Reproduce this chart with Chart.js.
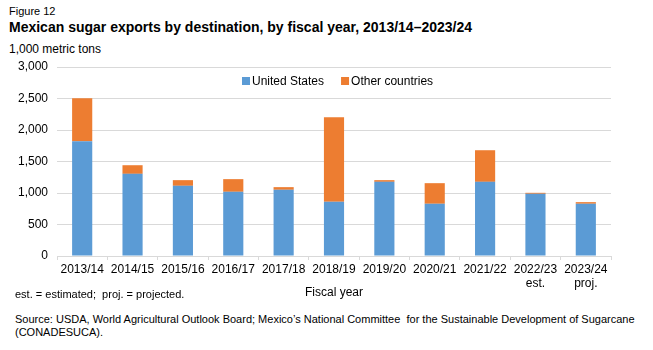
<!DOCTYPE html>
<html>
<head>
<meta charset="utf-8">
<script src="https://cdn.jsdelivr.net/npm/chart.js@4.4.1/dist/chart.umd.min.js"></script>
<style>
  body { margin: 0; background: #fff; font-family: "Liberation Sans Narrow", "Liberation Sans", Arial, sans-serif; }
  #wrap { position: relative; width: 653px; height: 350px; overflow: hidden; }
  .txt { position: absolute; left: 9px; color: #000; white-space: nowrap; }
  #fig { top: 5px; font-size: 11px; }
  #title { top: 19px; font-size: 14px; font-weight: bold; }
  #unit { top: 42px; font-size: 12px; }
  #note { top: 288px; font-size: 11px; left: 15px; }
  #src { top: 313px; font-size: 11px; left: 15px; line-height: 13px; }
  #box { position: absolute; left: 0; top: 50px; width: 653px; height: 250px; }
</style>
</head>
<body>
<div id="wrap">
  <div class="txt" id="fig">Figure 12</div>
  <div class="txt" id="title">Mexican sugar exports by destination, by fiscal year, 2013/14–2023/24</div>
  <div class="txt" id="unit">1,000 metric tons</div>
  <div id="box"><canvas id="myChart"></canvas></div>
  <div class="txt" id="note">est. = estimated;&nbsp; proj. = projected.</div>
  <div class="txt" id="src">Source: USDA, World Agricultural Outlook Board; Mexico’s National Committee&nbsp; for the Sustainable Development of Sugarcane<br>(CONADESUCA).</div>
</div>
<script>
// Fiscal years (second line = est./proj. marker)
const years = [
    '2013/14', '2014/15', '2015/16', '2016/17', '2017/18', '2018/19',
    '2019/20', '2020/21', '2021/22', ['2022/23', 'est.'], ['2023/24', 'proj.']
];

// Exports, 1,000 metric tons
const unitedStates = [1822, 1304, 1114, 1019, 1051, 861, 1177, 829, 1177, 987, 829];
const otherCountries = [680, 137, 90, 201, 42, 1341, 27, 327, 502, 16, 26];

const yTicks = [0, 500, 1000, 1500, 2000, 2500, 3000];

const seriesNames = ['United States', 'Other countries'];
const seriesColors = ['#5b9bd5', '#ed7d31'];

const fontName = '"Liberation Sans Narrow", "Liberation Sans", Arial, sans-serif';

// legend drawn inside the plot area, like the original
const insideLegend = {
    id: 'insideLegend',
    afterDraw(chart) {
        const ctx = chart.ctx;
        const y = 81 - 50;
        let x = 242;
        ctx.save();
        ctx.font = '12px ' + fontName;
        ctx.textBaseline = 'middle';
        seriesNames.forEach(function(name, i) {
            ctx.fillStyle = seriesColors[i];
            ctx.fillRect(x, y - 4, 8, 8);
            ctx.fillStyle = '#000';
            ctx.fillText(name, x + 10, y + 1);
            x += 10 + ctx.measureText(name).width + 17;
        });
        ctx.restore();
    }
};

const ctx = document.getElementById('myChart').getContext('2d');
const myChart = new Chart(ctx, {
    type: 'bar',
    data: {
        labels: years,
        datasets: [{
            label: seriesNames[0],
            data: unitedStates,
            backgroundColor: seriesColors[0],
            barPercentage: 0.4,
            categoryPercentage: 1
        }, {
            label: seriesNames[1],
            data: otherCountries,
            backgroundColor: seriesColors[1],
            barPercentage: 0.4,
            categoryPercentage: 1
        }]
    },
    options: {
        responsive: true,
        maintainAspectRatio: false,
        animation: false,
        layout: { padding: { top: 17, right: 42, bottom: 0, left: 0 } },
        plugins: {
            legend: { display: false },
            tooltip: { enabled: false }
        },
        scales: {
            x: {
                stacked: true,
                grid: { drawOnChartArea: false, color: '#d9d9d9', tickLength: 4, offset: true },
                border: { color: '#d9d9d9' },
                ticks: {
                    color: '#000',
                    font: { family: fontName, size: 12 },
                    autoSkip: false,
                    maxRotation: 0,
                    minRotation: 0,
                    padding: 2
                },
                title: {
                    display: true,
                    text: 'Fiscal year',
                    color: '#000',
                    font: { family: fontName, size: 12 },
                    padding: { top: -11, bottom: 0 }
                },
                afterFit: function(scale) { scale.height = 44; }
            },
            y: {
                stacked: true,
                min: 0,
                max: 3000,
                afterBuildTicks: function(scale) {
                    scale.ticks = yTicks.map(function(v) { return { value: v }; });
                },
                grid: { color: '#d9d9d9', drawTicks: false },
                border: { display: false },
                ticks: {
                    color: '#000',
                    font: { family: fontName, size: 12 },
                    padding: 9,
                    callback: function(v) { return v.toLocaleString('en-US'); }
                },
                afterFit: function(scale) { scale.width = 57; }
            }
        }
    },
    plugins: [insideLegend]
});
</script>
</body>
</html>
